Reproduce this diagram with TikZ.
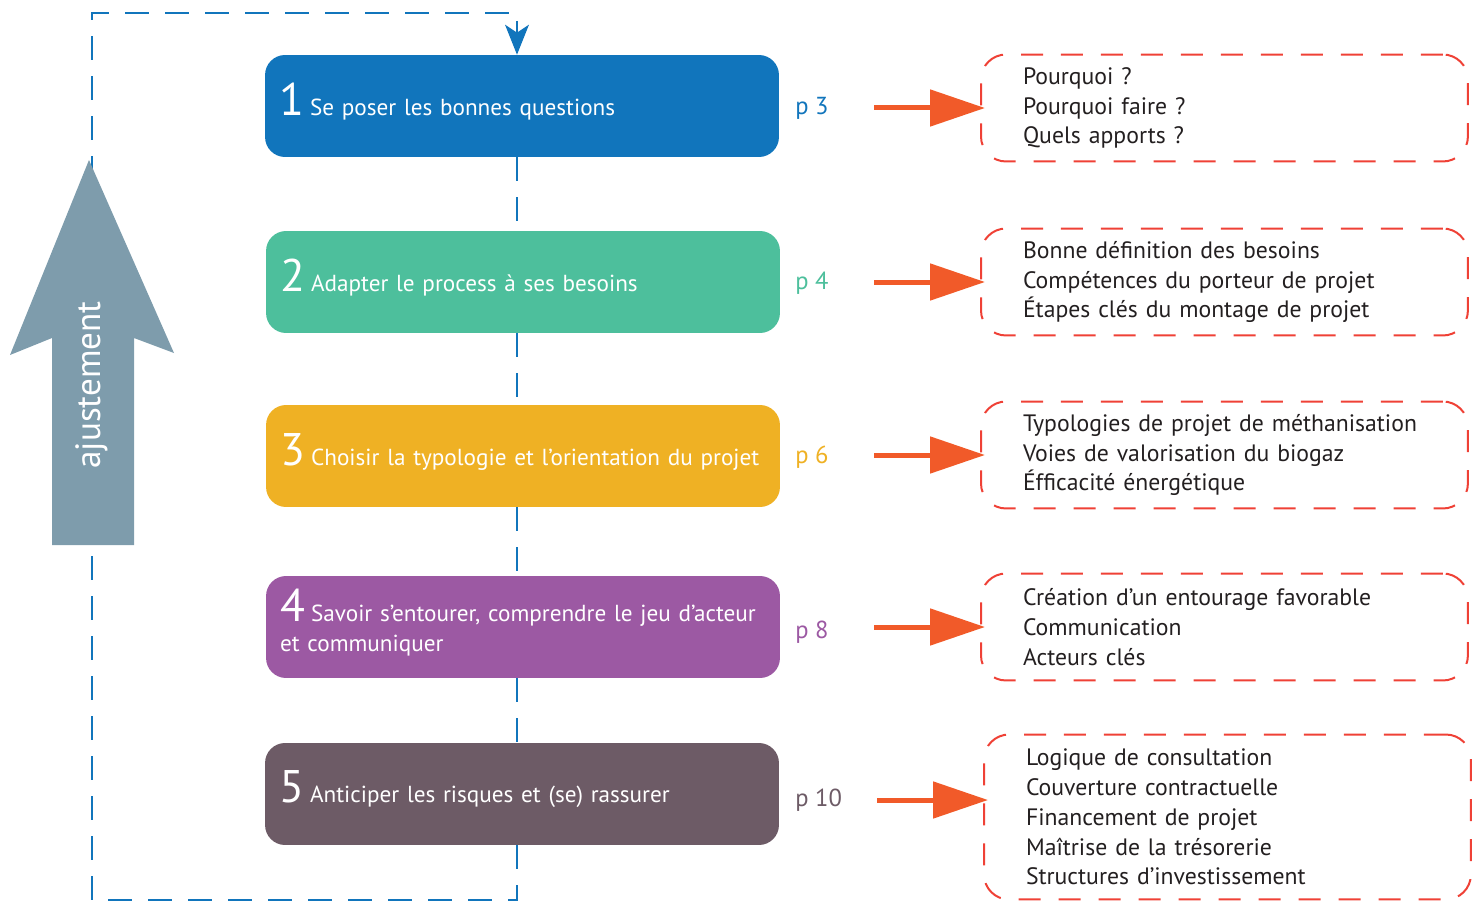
\documentclass[tikz,border=0pt]{standalone}
\usepackage{fontspec}
\setmainfont{PT Sans}
\usetikzlibrary{arrows.meta}

\definecolor{bleu}{HTML}{1175BC}
\definecolor{vert}{HTML}{4DBF9C}
\definecolor{jaune}{HTML}{EFB124}
\definecolor{violet}{HTML}{9C59A3}
\definecolor{mauve}{HTML}{6D5B66}
\definecolor{orange}{HTML}{F15A29}
\definecolor{rouge}{HTML}{EF4136}
\definecolor{gris}{HTML}{7E9CAC}
\definecolor{encre}{HTML}{231F20}

\newcommand\chiffre[1]{\rule{0pt}{0.46cm}\smash{\fontsize{26}{26}\selectfont #1}\hspace{3.5pt}}
\newcommand\serre{\spaceskip=0.24em plus 0.1em minus 0.05em\relax}

\begin{document}
\begin{tikzpicture}[x=0.02cm, y=-0.02cm,
  etape/.style = {fill=#1, rounded corners=0.4cm, minimum width=10.28cm, minimum height=2.04cm,
    text width=9.72cm, inner xsep=0.28cm, align=left, text=white,
    font=\fontsize{13.2}{17}\selectfont\serre},
  page/.style = {anchor=west, inner xsep=0pt, text=#1, font=\fontsize{14}{16}\selectfont},
  detail/.style = {draw=rouge, line width=0.04cm, dash pattern=on 0.44cm off 0.36cm, rounded corners=0.5cm,
    anchor=west, minimum width=9.74cm, minimum height=#1, text width=8.06cm, inner xsep=0.84cm,
    align=left, text=encre, font=\fontsize{13.5}{17}\selectfont},
  detail/.default = 2.14cm,
  boucle/.style = {draw=bleu, line width=0.04cm, dash pattern=on 0.48cm off 0.32cm},
  fleche/.style = {draw=orange, line width=0.1cm, -{Triangle[length=1.1cm, width=0.72cm]}}]
\useasboundingbox (0,0) rectangle (1480,902);

% les cinq etapes
\node[etape=bleu]   (etape1) at (522,106) {\chiffre{1}Se poser les bonnes questions};
\node[etape=vert]   (etape2) at (523,282) {\chiffre{2}Adapter le process à ses besoins};
\node[etape=jaune]  (etape3) at (523,456) {\chiffre{3}Choisir la typologie et l’orientation du projet};
\node[etape=violet] (etape4) at (523,627) {\chiffre{4}Savoir s’entourer, comprendre le jeu d’acteur\\et communiquer};
\node[etape=mauve]  (etape5) at (522,794) {\chiffre{5}Anticiper les risques et (se) rassurer};

% pages
\node[page=bleu]   (page1) at (795,108) {p 3};
\node[page=vert]   (page2) at (795,283) {p 4};
\node[page=jaune]  (page3) at (795,457) {p 6};
\node[page=violet] (page4) at (795,632) {p 8};
\node[page=mauve]  (page5) at (795,800) {p 10};

% contenus
\node[detail] (det1) at (980,108) {Pourquoi ?\\Pourquoi faire ?\\Quels apports ?};
\node[detail] (det2) at (980,282) {Bonne définition des besoins\\Compétences du porteur de projet\\Étapes clés du montage de projet};
\node[detail] (det3) at (980,455) {Typologies de projet de méthanisation\\Voies de valorisation du biogaz\\Éfficacité énergétique};
\node[detail] (det4) at (980,627) {Création d’un entourage favorable\\Communication\\Acteurs clés};
\node[detail=3.3cm] (det5) at (983,817) {Logique de consultation\\Couverture contractuelle\\Financement de projet\\Maîtrise de la trésorerie\\Structures d’investissement};

\foreach \i/\dy in {1/0,2/0,3/0,4/0,5/0.34}
  \draw[fleche] ([xshift=-2.12cm, yshift=\dy cm]det\i.west) -- ([xshift=0.1cm, yshift=\dy cm]det\i.west);

% boucle d'ajustement
\coordinate (bas) at (517,900);
\coordinate (coinbg) at (92,900);
\coordinate (coinhg) at (92,13);
\coordinate (haut) at (517,13);
\begin{scope}[boucle]
  \draw (etape1.south -| haut) -- (etape2.north -| haut);
  \draw (etape2.south -| haut) -- (etape3.north -| haut);
  \draw (etape3.south -| haut) -- (etape4.north -| haut);
  \draw (etape4.south -| haut) -- (etape5.north -| haut);
  \draw (etape5.south -| haut) -- (bas) -- (coinbg) -- (coinhg) -- (haut)
    -- (etape1.north -| haut);
\end{scope}
\fill[bleu] (etape1.north -| haut) -- ++(-12,-30) -- ++(12,8) -- ++(12,-8) -- cycle;

% grande fleche grise
\fill[gris] (89,160) -- (174,353) -- (134,338) -- (134,545) -- (52,545) -- (52,338) -- (10,355) -- cycle;
\node[rotate=90, text=white, font=\fontsize{20}{20}\selectfont] (ajust) at (92,385) {ajustement};
\end{tikzpicture}
\end{document}
